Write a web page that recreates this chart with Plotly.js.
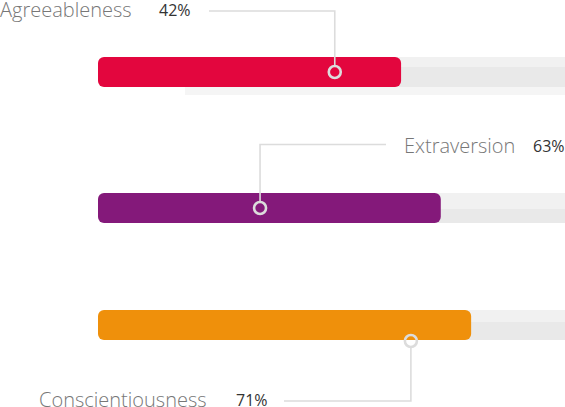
<!DOCTYPE html>
<html>
<head>
<meta charset="utf-8">
<script src="https://cdn.plot.ly/plotly-3.0.1.min.js"></script>
<style>
  html, body { margin: 0; padding: 0; background: #ffffff; }
  #chart { width: 565px; height: 407px; }
</style>
</head>
<body>
<div id="chart"></div>
<script>
// ---- data ----
const categories = ['Agreeableness', 'Extraversion', 'Conscientiousness'];
const percentLabels = ['42%', '63%', '71%'];
const barValues = [64.9, 73.4, 79.9];      // bar length on a 0-100 track
const markerValues = [50.7, 34.7, 67.0];   // marker position on the bar
const trackMax = 100;

// ---- layout config (positions / styles) ----
const W = 565, H = 407;
const plotLeftPx = 98;                      // pixel where value 0 sits
const xMin = -plotLeftPx / (W - plotLeftPx) * trackMax;
const rowCenter = [72, 208, 325];
const thickness = 30;
const topBand = [10, 16, 12];
const barColors = ['#e3063e', '#84197a', '#ef900b'];
const elbowY = [11, 144.5, 401];
const elbowEndPx = [209, 386, 284];
const circleSide = [-1, -1, 1];
const catPos = [[-2, 9], [402, 145], [37, 399]];
const pctPos = [[157, 10], [531, 146], [234, 400]];

const pxToX = p => xMin + p / W * (trackMax - xMin);

const traces = [];
categories.forEach((c, i) => {
  const top = rowCenter[i] - thickness / 2;
  traces.push({
    type: 'bar', orientation: 'h',
    y: [top + topBand[i] / 2], x: [trackMax + 5 - 3], base: [3],
    width: topBand[i], marker: { color: '#f1f1f1', line: { width: 0 } },
    hoverinfo: 'skip', showlegend: false
  });
  const restH = thickness - topBand[i];
  traces.push({
    type: 'bar', orientation: 'h',
    y: [top + topBand[i] + restH / 2], x: [trackMax + 5 - 3], base: [3],
    width: restH, marker: { color: '#e9e9e9', line: { width: 0 } },
    hoverinfo: 'skip', showlegend: false
  });
});
traces.push({
  type: 'bar', orientation: 'h',
  y: [rowCenter[0] + thickness / 2 + 4], x: [trackMax + 5 - pxToX(185)], base: [pxToX(185)],
  width: 8, marker: { color: '#f5f5f5', line: { width: 0 } },
  hoverinfo: 'skip', showlegend: false
});
categories.forEach((c, i) => {
  traces.push({
    type: 'bar', orientation: 'h', name: c,
    y: [rowCenter[i]], x: [barValues[i]], base: [0],
    width: thickness,
    marker: { color: barColors[i], cornerradius: 6, line: { width: 0 } },
    hoverinfo: 'skip', showlegend: false
  });
});
const circleY = rowCenter.map((r, i) => i === 2 ? r + thickness / 2 + 1 : r);
categories.forEach((c, i) => {
  const mx = markerValues[i];
  const edgeY = circleY[i] + circleSide[i] * 6;
  traces.push({
    type: 'scatter', mode: 'lines',
    x: [mx, mx, pxToX(elbowEndPx[i])],
    y: [edgeY, elbowY[i], elbowY[i]],
    line: { color: '#dcdcdc', width: 1.6 },
    hoverinfo: 'skip', showlegend: false
  });
});
traces.push({
  type: 'scatter', mode: 'markers',
  x: markerValues, y: circleY,
  marker: { symbol: 'circle-open', size: 12, color: '#dcdcdc', line: { width: 2.6, color: '#dcdcdc' } },
  hoverinfo: 'skip', showlegend: false
});

const annotations = [];
categories.forEach((c, i) => {
  annotations.push({
    text: c, x: catPos[i][0] / W, y: 1 - catPos[i][1] / H, xref: 'paper', yref: 'paper',
    xanchor: 'left', yanchor: 'middle', showarrow: false,
    font: { family: 'Open Sans', size: 20, color: '#777777', weight: 300 }
  });
  annotations.push({
    text: percentLabels[i], x: pctPos[i][0] / W, y: 1 - pctPos[i][1] / H, xref: 'paper', yref: 'paper',
    xanchor: 'left', yanchor: 'middle', showarrow: false,
    font: { family: 'Open Sans', size: 16, color: '#333333' }
  });
});

const layout = {
  width: W, height: H,
  margin: { l: 0, r: 0, t: 0, b: 0, pad: 0 },
  paper_bgcolor: '#ffffff', plot_bgcolor: '#ffffff',
  barmode: 'overlay',
  xaxis: { range: [xMin, trackMax], visible: false, fixedrange: true },
  yaxis: { range: [H, 0], visible: false, fixedrange: true },
  annotations: annotations,
  showlegend: false
};

Plotly.newPlot('chart', traces, layout, { staticPlot: true, displayModeBar: false });
</script>
</body>
</html>
